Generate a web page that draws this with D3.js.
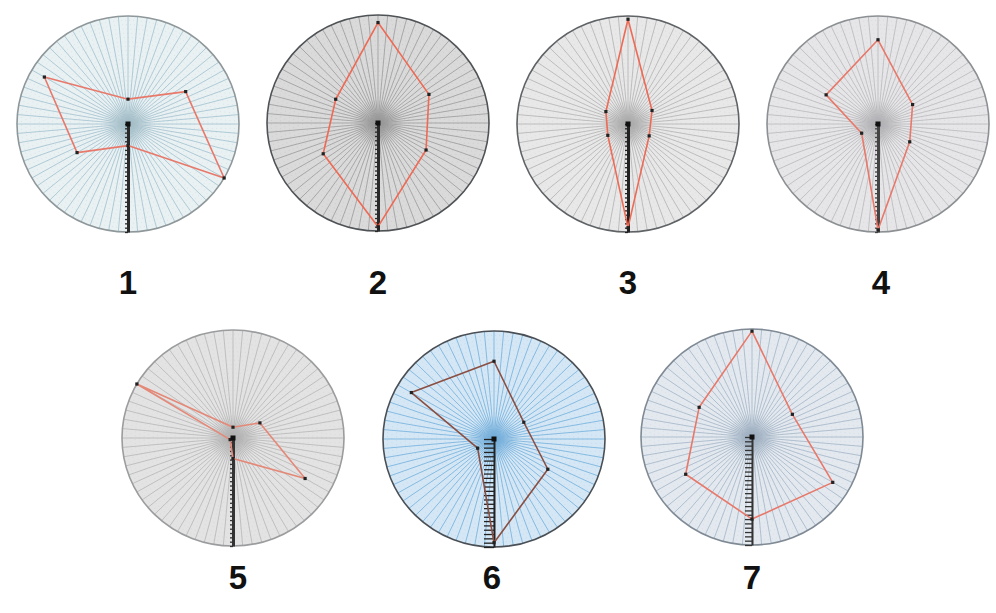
<!DOCTYPE html>
<html>
<head>
<meta charset="utf-8">
<script src="https://cdn.jsdelivr.net/npm/d3@7"></script>
<style>
  html, body { margin: 0; padding: 0; background: #ffffff; }
  svg { display: block; }
</style>
</head>
<body>
<svg id="chart" width="996" height="613"></svg>
<script>
// Panel labels and the six radial axes (degrees clockwise from the top)
const panelLabels = ["1", "2", "3", "4", "5", "6", "7"];
const axisAngles = [0, 60, 120, 180, 240, 300];

// Profile values per panel, one per axis, on a 0..1 scale
const series1 = [0.23, 0.60, 1.00, 0.20, 0.53, 0.87];
const series2 = [0.93, 0.53, 0.50, 0.96, 0.57, 0.44];
const series3 = [0.97, 0.25, 0.22, 0.96, 0.21, 0.23];
const series4 = [0.78, 0.36, 0.33, 0.98, 0.17, 0.54];
const series5 = [0.10, 0.28, 0.75, 0.19, 0.03, 1.00];
const series6 = [0.72, 0.31, 0.56, 0.96, 0.17, 0.86];
const series7 = [0.98, 0.42, 0.84, 0.76, 0.69, 0.55];
const allSeries = [series1, series2, series3, series4, series5, series6, series7];

// Radial tick / ring levels
const ringLevels = d3.range(0, 1.0001, 0.04);
const spokeCount = 72;

// Layout of the panels
const layout = [
  { cx: 128, cy: 124, lx: 128, ly: 294 },
  { cx: 378, cy: 123, lx: 378, ly: 294 },
  { cx: 628, cy: 124, lx: 628, ly: 294 },
  { cx: 878, cy: 124, lx: 881, ly: 294 },
  { cx: 233, cy: 438, lx: 238, ly: 589 },
  { cx: 494, cy: 439, lx: 492, ly: 589 },
  { cx: 752, cy: 437, lx: 752, ly: 589 }
];
const RX = 111, RY = 108;

// Colour schemes of the panels
const themes = [
  { bg: "#e9f1f3", spoke: "#a9c6d2", ring: "#b9cbd2", rim: "#8e979a", line: "#e8786a", axis: "#2a2a2a", tick: 3, haze: "#9fb5bd" },
  { bg: "#dadada", spoke: "#a2a2a2", ring: "#b3b3b3", rim: "#4f5356", line: "#ee6a55", axis: "#2a2a2a", tick: 3, haze: "#8f8f8f" },
  { bg: "#e8e8e8", spoke: "#b8b8b8", ring: "#c6c6c6", rim: "#5f6366", line: "#ee6a55", axis: "#222222", tick: 3, haze: "#a0a0a0" },
  { bg: "#e6e6e8", spoke: "#bdbdc1", ring: "#c4c4c8", rim: "#8c9093", line: "#e8786a", axis: "#444444", tick: 3, haze: "#a8a8ac" },
  { bg: "#e3e3e3", spoke: "#bbbbbb", ring: "#c8c8c8", rim: "#9a9c9e", line: "#e48878", axis: "#333333", tick: 3, haze: "#a8a8a8" },
  { bg: "#d5e7f5", spoke: "#7db5df", ring: "#9cc6e6", rim: "#4a4f55", line: "#8a4f42", axis: "#222222", tick: 10, haze: "#6fa8d6" },
  { bg: "#e3e9ef", spoke: "#aabacb", ring: "#bfcbd6", rim: "#7f8a95", line: "#e8786a", axis: "#333333", tick: 7, haze: "#95a6b8" }
];

const svg = d3.select("#chart");
const defs = svg.append("defs");
const rx = d3.scaleLinear().domain([0, 1]).range([0, RX]);
const ry = d3.scaleLinear().domain([0, 1]).range([0, RY]);
const rad = a => a * Math.PI / 180;

allSeries.forEach((values, i) => {
  const pos = layout[i], th = themes[i];
  const g = svg.append("g").attr("transform", `translate(${pos.cx},${pos.cy})`);

  // Background disc
  g.append("ellipse").attr("rx", RX).attr("ry", RY).attr("fill", th.bg);

  // Concentric rings
  g.selectAll(".ring").data(ringLevels.slice(1)).join("ellipse")
    .attr("rx", d => rx(d)).attr("ry", d => ry(d))
    .attr("fill", "none")
    .attr("stroke", th.ring)
    .attr("stroke-opacity", 0.45)
    .attr("stroke-width", 0.8)
    .attr("stroke-dasharray", "1,3");

  // Spokes
  const spokes = d3.range(spokeCount).map(k => k * 360 / spokeCount);
  g.selectAll(".spoke").data(spokes).join("line")
    .attr("x1", 0).attr("y1", 0)
    .attr("x2", a => rx(1) * Math.sin(rad(a)))
    .attr("y2", a => -ry(1) * Math.cos(rad(a)))
    .attr("stroke", th.spoke)
    .attr("stroke-width", 0.9);

  // Centre haze
  const gradId = "haze" + i;
  const grad = defs.append("radialGradient").attr("id", gradId);
  grad.append("stop").attr("offset", "0%").attr("stop-color", th.haze).attr("stop-opacity", 0.6);
  grad.append("stop").attr("offset", "100%").attr("stop-color", th.haze).attr("stop-opacity", 0);
  g.append("ellipse").attr("rx", 26).attr("ry", 24).attr("fill", `url(#${gradId})`);

  // Rim
  g.append("ellipse").attr("rx", RX).attr("ry", RY)
    .attr("fill", "none").attr("stroke", th.rim).attr("stroke-width", 1.6);

  // Radial axis pointing down
  const axisScale = d3.scaleLinear().domain([0, 1]).range([0, RY]);
  const axisG = g.append("g")
    .call(d3.axisLeft(axisScale).tickValues(ringLevels).tickSize(th.tick).tickSizeOuter(0).tickFormat(""));
  axisG.select(".domain").attr("stroke", th.axis).attr("stroke-width", th.tick > 3 ? 2 : 3);
  axisG.selectAll(".tick line").attr("stroke", th.axis).attr("stroke-width", 1.3);

  // Profile polygon
  const pts = values.map((v, k) => [rx(v) * Math.sin(rad(axisAngles[k])), -ry(v) * Math.cos(rad(axisAngles[k]))]);
  g.append("path")
    .attr("d", d3.line().curve(d3.curveLinearClosed)(pts))
    .attr("fill", "none")
    .attr("stroke", th.line)
    .attr("stroke-width", 1.6)
    .attr("stroke-linejoin", "round");

  g.selectAll(".pt").data(pts).join("rect")
    .attr("x", d => d[0] - 1.6).attr("y", d => d[1] - 1.6)
    .attr("width", 3.2).attr("height", 3.2)
    .attr("fill", "#222");

  // Centre marker
  g.append("rect").attr("x", -2.5).attr("y", -2.5).attr("width", 5).attr("height", 5).attr("fill", "#111");

  // Panel number
  svg.append("text")
    .attr("x", pos.lx).attr("y", pos.ly)
    .attr("text-anchor", "middle")
    .attr("font-family", "Liberation Sans, Arial, sans-serif")
    .attr("font-weight", "bold")
    .attr("font-size", 33)
    .attr("fill", "#111")
    .text(panelLabels[i]);
});
</script>
</body>
</html>
